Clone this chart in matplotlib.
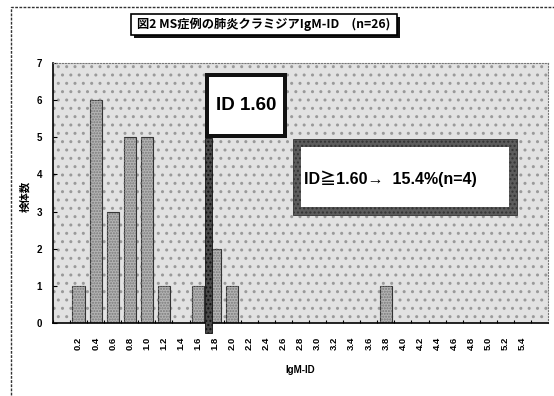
import numpy as np
import matplotlib
matplotlib.use('Agg')
import matplotlib.pyplot as plt
from matplotlib.patches import Rectangle

# IgM-ID class labels and number of specimens per class
id_labels = ['0.2', '0.4', '0.6', '0.8', '1.0', '1.2', '1.4', '1.6', '1.8', '2.0',
             '2.2', '2.4', '2.6', '2.8', '3.0', '3.2', '3.4', '3.6', '3.8', '4.0',
             '4.2', '4.4', '4.6', '4.8', '5.0', '5.2', '5.4']
counts = [1, 6, 3, 5, 5, 1, 0, 1, 2, 1,
          0, 0, 0, 0, 0, 0, 0, 0, 1, 0,
          0, 0, 0, 0, 0, 0, 0]
y_ticks = [0, 1, 2, 3, 4, 5, 6, 7]

title = '図2 MS症例の肺炎クラミジアIgM-ID　(n=26)'
cutoff_text = 'ID 1.60'
ratio_text = 'ID≧1.60→  15.4%(n=4)'

W, H = 554, 396
LAT = ['Liberation Sans', 'Noto Sans CJK JP', 'DejaVu Sans']
JP = ['Noto Sans CJK JP', 'DejaVu Sans']


def fx(x):
    return x / W


def fy(y):
    return 1 - y / H


fig = plt.figure(figsize=(W / 100, H / 100), dpi=100)
fig.patch.set_facecolor('white')

# outer chart frame (cut off at right and bottom)
fig.add_artist(Rectangle((fx(11), fy(402)), fx(560 - 11), (402 - 7) / H,
                         transform=fig.transFigure, fill=False,
                         edgecolor='#333333', lw=1.0, ls=(0, (2, 1))))

ax = fig.add_axes([fx(53), fy(323), 495 / W, 260 / H])
x = np.arange(len(id_labels))

# stippled plot background
ax.set_facecolor('#e2e2e2')
ax.add_patch(Rectangle((0, 0), 1, 1, transform=ax.transAxes, facecolor='none',
                       edgecolor='#9a9a9a', hatch='..', lw=0, zorder=0))

ax.bar(x, counts, width=0.72, color='#b4b4b4', edgecolor='#333333',
       lw=0.8, zorder=2)
ax.bar(x, counts, width=0.72, color='none', edgecolor='#7a7a7a',
       lw=0, hatch='......', zorder=2)

ax.set_xlim(-1.5, len(id_labels) + 0.5)
ax.set_ylim(0, 7)

# threshold marker for ID 1.60
cut_x = 7.6
ax.add_patch(Rectangle((cut_x - 0.22, -0.27), 0.44, 4.98 + 0.27,
                       facecolor='#4a4a4a', edgecolor='#111111', lw=0.6,
                       hatch='....', clip_on=False, zorder=4))

# box "ID 1.60"
bx0, bx1, by0, by1 = 7.40, 12.2, 4.98, 6.73
ax.add_patch(Rectangle((bx0, by0), bx1 - bx0, by1 - by0,
                       facecolor='#111111', edgecolor='none', zorder=5))
ax.add_patch(Rectangle((bx0 + 0.23, by0 + 0.1), bx1 - bx0 - 0.46, by1 - by0 - 0.2,
                       facecolor='white', edgecolor='none', zorder=6))
ax.text((bx0 + bx1) / 2, (by0 + by1) / 2, cutoff_text, ha='center', va='center',
        fontsize=13.5, fontweight='bold', family=LAT, zorder=7)

# box with the ratio above the cutoff
cx0, cx1, cy0, cy1 = 12.56, 25.68, 2.91, 4.95
ax.add_patch(Rectangle((cx0, cy0), cx1 - cx0, cy1 - cy0,
                       facecolor='#5c5c5c', edgecolor='#333333', lw=0.6,
                       hatch='....', zorder=5))
ax.add_patch(Rectangle((cx0 + 0.47, cy0 + 0.215), cx1 - cx0 - 0.94, cy1 - cy0 - 0.43,
                       facecolor='white', edgecolor='none', zorder=6))
ax.text(13.2, 3.88, ratio_text, ha='left', va='center',
        fontsize=11.5, fontweight='bold', family=LAT, zorder=7)

# axes styling
for side in ['left', 'bottom']:
    ax.spines[side].set_color('black')
    ax.spines[side].set_linewidth(1.2)
for side in ['top', 'right']:
    ax.spines[side].set_color('#777777')
    ax.spines[side].set_linewidth(0.8)
    ax.spines[side].set_linestyle(':')

ax.set_yticks(y_ticks)
ax.set_yticklabels([str(v) for v in y_ticks], fontsize=7, fontweight='bold', family=LAT)
ax.tick_params(axis='y', direction='in', length=3, width=0.8, pad=8)

ax.set_xticks(x)
ax.set_xticklabels(id_labels, rotation=90, fontsize=6.8, fontweight='bold', family=LAT)
ax.set_xticks(np.arange(-1.5, len(id_labels) + 0.5, 1), minor=True)
ax.tick_params(axis='x', which='major', length=0, pad=10)
ax.tick_params(axis='x', which='minor', direction='in', length=2.5, width=0.8)

fig.text(fx(300), fy(370), 'IgM-ID', ha='center', va='center',
         fontsize=7, fontweight='bold', family=LAT)
fig.text(fx(25), fy(196), '検体数', ha='center', va='center', rotation=90,
         fontsize=7.5, fontweight='bold', family=JP)

# title box with drop shadow
tx0, ty0, tw, th = 131, 14, 266, 21
fig.add_artist(Rectangle((fx(tx0 + 3), fy(ty0 + th + 3)), tw / W, th / H,
                         transform=fig.transFigure, facecolor='#111111',
                         edgecolor='none'))
fig.add_artist(Rectangle((fx(tx0), fy(ty0 + th)), tw / W, th / H,
                         transform=fig.transFigure, facecolor='white',
                         edgecolor='black', lw=1.2))
fig.text(fx(tx0 + tw / 2), fy(ty0 + th / 2), title, ha='center', va='center',
         fontsize=8.8, fontweight='bold', family=JP)

fig.savefig('out.png', dpi=100)
